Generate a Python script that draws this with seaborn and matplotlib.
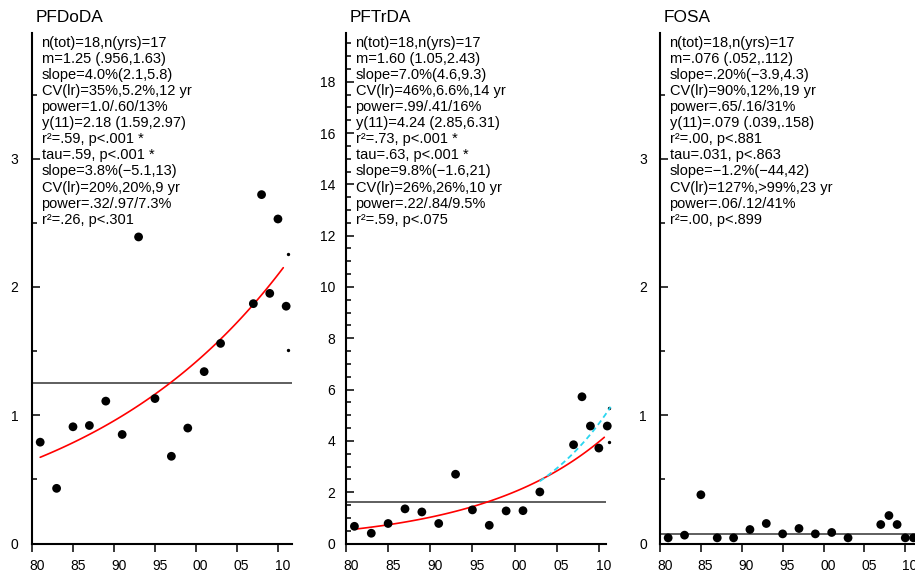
import numpy as np
import pandas as pd
import matplotlib
matplotlib.use("Agg")
import matplotlib.pyplot as plt
from matplotlib.ticker import MultipleLocator
from matplotlib.transforms import ScaledTranslation
import seaborn as sns

# ---------------- data ----------------
years = [1981, 1983, 1985, 1987, 1989, 1991, 1993, 1995, 1997, 1999,
         2001, 2003, 2007, 2008, 2009, 2010, 2011]
pfdoda = [0.79, 0.43, 0.91, 0.92, 1.11, 0.85, 2.39, 1.13, 0.68, 0.90,
          1.34, 1.56, 1.87, 2.72, 1.95, 2.53, 1.85]
pftrda = [0.67, 0.40, 0.78, 1.35, 1.23, 0.78, 2.70, 1.31, 0.71, 1.27,
          1.28, 2.01, 3.85, 5.72, 4.58, 3.72, 4.58]
fosa = [0.044, 0.065, 0.38, 0.044, 0.044, 0.109, 0.156, 0.075, 0.117, 0.075,
        0.086, 0.044, 0.148, 0.218, 0.148, 0.044, 0.044]

titles = ["PFDoDA", "PFTrDA", "FOSA"]
series = [pfdoda, pftrda, fosa]
geo_means = [1.25, 1.60, 0.076]
# log-linear trend (whole period): slope %/yr and fitted value in 2011 (None = not drawn)
trend_slope = [4.0, 7.0, None]
trend_y11 = [2.18, 4.24, None]
# recent 10-year trend (cyan dashed)
recent_slope = [None, 9.8, None]
recent_y11 = [None, 5.13, None]
recent_years = [2003, 2011.4]
# tiny end markers
end_x = 2011.25
end_marks = [[2.26, 1.51], [5.30, 3.97], []]

stats_text = [
    ["n(tot)=18,n(yrs)=17", "m=1.25 (.956,1.63)", "slope=4.0%(2.1,5.8)",
     "CV(lr)=35%,5.2%,12 yr", "power=1.0/.60/13%", "y(11)=2.18 (1.59,2.97)",
     "r\u00b2=.59, p<.001 *", "tau=.59, p<.001 *", "slope=3.8%(\u22125.1,13)",
     "CV(lr)=20%,20%,9 yr", "power=.32/.97/7.3%", "r\u00b2=.26, p<.301"],
    ["n(tot)=18,n(yrs)=17", "m=1.60 (1.05,2.43)", "slope=7.0%(4.6,9.3)",
     "CV(lr)=46%,6.6%,14 yr", "power=.99/.41/16%", "y(11)=4.24 (2.85,6.31)",
     "r\u00b2=.73, p<.001 *", "tau=.63, p<.001 *", "slope=9.8%(\u22121.6,21)",
     "CV(lr)=26%,26%,10 yr", "power=.22/.84/9.5%", "r\u00b2=.59, p<.075"],
    ["n(tot)=18,n(yrs)=17", "m=.076 (.052,.112)", "slope=.20%(\u22123.9,4.3)",
     "CV(lr)=90%,12%,19 yr", "power=.65/.16/31%", "y(11)=.079 (.039,.158)",
     "r\u00b2=.00, p<.881", "tau=.031, p<.863", "slope=\u22121.2%(\u221244,42)",
     "CV(lr)=127%,>99%,23 yr", "power=.06/.12/41%", "r\u00b2=.00, p<.899"],
]

xtick_vals = [1980, 1985, 1990, 1995, 2000, 2005, 2010]
xtick_labels = ["80", "85", "90", "95", "00", "05", "10"]

# ---------------- layout ----------------
W, H = 915, 576
DPI = 100
sns.set_style("ticks")
plt.rcParams["font.family"] = ["Liberation Sans", "DejaVu Sans"]

fig = plt.figure(figsize=(W / DPI, H / DPI), dpi=DPI)

# pixel boxes (left, right, top, bottom)
boxes = [(32, 292.3, 33, 543.5), (346, 606, 33, 543.5), (660, 920, 33, 543.5)]
xlims = [(1980.0, 2011.75), (1980.05, 2010.85), (1980.1, 2011.8)]
ylims = [(0, 3.98), (0, 19.9), (0, 3.98)]
ymajor = [1, 2, 1]
ypads_px = [13.5, 10.5, 13]

px = 72.0 / DPI  # points per pixel

for i in range(3):
    l, r, t, b = boxes[i]
    ax = fig.add_axes([l / W, 1 - b / H, (r - l) / W, (b - t) / H])
    ax.set_facecolor("none")

    df = pd.DataFrame({"year": years, "value": series[i]})

    ax.axhline(geo_means[i], color="#333333", lw=1.1, zorder=2)

    if trend_slope[i] is not None:
        tt = np.linspace(1981, 2010.65, 120)
        yy = trend_y11[i] * (1 + trend_slope[i] / 100.0) ** (tt - 2011)
        sns.lineplot(x=tt, y=yy, ax=ax, color="#FF0000", lw=1.2, zorder=3,
                     estimator=None, sort=False)

    if recent_slope[i] is not None:
        tr = np.linspace(recent_years[0], recent_years[1], 50)
        yr = recent_y11[i] * (1 + recent_slope[i] / 100.0) ** (tr - 2011)
        sns.lineplot(x=tr, y=yr, ax=ax, color="#2BD6F0", lw=1.3, zorder=3,
                     estimator=None, sort=False)
        ax.lines[-1].set_dashes((3, 2))
        ax.lines[-1].set_clip_on(False)

    sns.scatterplot(data=df, x="year", y="value", ax=ax, color="black", s=40,
                    edgecolor="none", linewidth=0, zorder=4, clip_on=False)

    if end_marks[i]:
        ax.plot([end_x] * len(end_marks[i]), end_marks[i], ls="none",
                marker="o", ms=1.4, color="black", clip_on=False)

    ax.set_xlim(*xlims[i])
    ax.set_ylim(*ylims[i])
    ax.set_xlabel("")
    ax.set_ylabel("")

    ax.set_xticks(xtick_vals)
    ax.set_xticklabels(xtick_labels)
    ax.yaxis.set_major_locator(MultipleLocator(ymajor[i]))
    ax.yaxis.set_minor_locator(MultipleLocator(0.5))
    ax.yaxis.set_major_formatter(matplotlib.ticker.FormatStrFormatter("%d"))

    for s in ["top", "right"]:
        ax.spines[s].set_visible(False)
    for s in ["left", "bottom"]:
        ax.spines[s].set_linewidth(1.5)
        ax.spines[s].set_color("black")

    ax.tick_params(axis="x", direction="out", length=8 * px, width=1.1,
                   pad=7.5 * px, labelsize=10, colors="black")
    ax.tick_params(axis="y", which="major", direction="in", length=8 * px,
                   width=1.1, pad=ypads_px[i] * px, labelsize=10, colors="black")
    ax.tick_params(axis="y", which="minor", direction="in", length=4.5 * px,
                   width=1.1, colors="black")

    off = ScaledTranslation(4.7 / DPI, 0, fig.dpi_scale_trans)
    for tk in ax.xaxis.get_major_ticks():
        tk.label1.set_transform(tk.label1.get_transform() + off)

    # title
    ax.annotate(titles[i], xy=(0, 1), xycoords="axes fraction",
                xytext=(4 * px, 15.5 * px), textcoords="offset points",
                ha="left", va="center", fontsize=12.4, color="black")

    # statistics text block
    for k, line in enumerate(stats_text[i]):
        ax.annotate(line, xy=(0, 1), xycoords="axes fraction",
                    xytext=(9.5 * px, -(9.7 + 16.1 * k) * px),
                    textcoords="offset points", ha="left", va="center",
                    fontsize=10.5, color="black")

fig.savefig("out.png", dpi=DPI, facecolor="white")
